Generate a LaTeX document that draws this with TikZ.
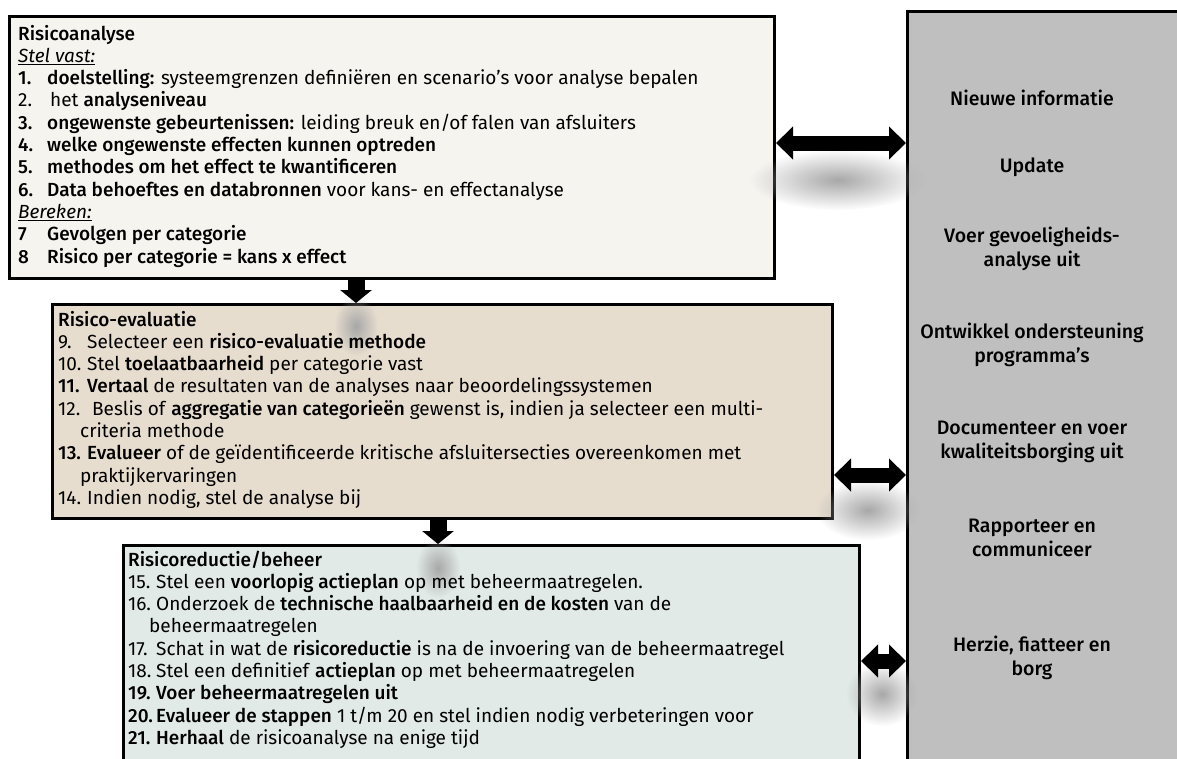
\documentclass[tikz,border=0pt]{standalone}
\usepackage{fontspec}
\setmainfont{Fira Sans}[BoldFont={Fira Sans Medium}]
\usetikzlibrary{arrows.meta,fadings}
\definecolor{boxA}{HTML}{F6F4EF}
\definecolor{boxB}{HTML}{E7DDCF}
\definecolor{boxC}{HTML}{E1EAE6}
\definecolor{sidegray}{HTML}{BFBFBF}
\tikzfading[name=softblob, inner color=transparent!0, outer color=transparent!100]
\begin{document}
\begin{tikzpicture}[x=1pt,y=-1pt,
  panel/.style={draw=black, line width=3pt, inner sep=0pt, anchor=north west},
  listtext/.style={anchor=base west, inner sep=0pt, font=\fontsize{19}{22.3}\selectfont},
  sidetext/.style={align=center, inner sep=0pt, font=\fontsize{19.5}{23.5}\selectfont\bfseries},
  hblock/.style={line width=15pt, {Triangle[length=17pt,width=32pt]}-{Triangle[length=17pt,width=32pt]}},
  vblock/.style={line width=17pt, -{Triangle[length=13pt,width=31pt]}},
  shadowblob/.style={fill=black!34, path fading=softblob}]
\path[use as bounding box] (0,0) rectangle (1177,758);
\clip (0,0) rectangle (1177,758);
\fill[white] (0,0) rectangle (1177,758);

% panels
\node[panel, fill=boxA, minimum width=765pt, minimum height=262pt] (ra) at (8,15) {};
\node[panel, fill=boxB, minimum width=780pt, minimum height=214pt] (re) at (51,303) {};
\node[panel, fill=boxC, minimum width=736pt, minimum height=260pt] (rb) at (122,544) {};
\node[panel, fill=sidegray, minimum width=400pt, minimum height=800pt] (side) at (906,10) {};

% shadows
\fill[shadowblob] (838,180) ellipse (88 and 30);
\fill[shadowblob] (868,510) ellipse (52 and 30);
\fill[shadowblob] (882,694) ellipse (36 and 32);
\fill[shadowblob] (356,326) ellipse (22 and 30);
\fill[shadowblob] (438,568) ellipse (22 and 30);

% texts
\node[listtext] (ratext) at (18,40) {\begin{tabular}[t]{@{}p{29pt}@{}l@{}}
\multicolumn{2}{@{}l@{}}{\bfseries Risicoanalyse}\\
\multicolumn{2}{@{}l@{}}{\underline{\textit{Stel vast:}}}\\
\bfseries 1. & \textbf{doelstelling:} systeemgrenzen definiëren en scenario's voor analyse bepalen\\
2. & \hspace{3pt}het \textbf{analyseniveau}\\
\bfseries 3. & \textbf{ongewenste gebeurtenissen:} leiding breuk en/of falen van afsluiters\\
\bfseries 4. & \textbf{welke ongewenste effecten kunnen optreden}\\
\bfseries 5. & \textbf{methodes om het effect te kwantificeren}\\
\bfseries 6. & \textbf{Data behoeftes en databronnen} voor kans- en effectanalyse\\
\multicolumn{2}{@{}l@{}}{\underline{\textit{Bereken:}}}\\
\bfseries 7 & \textbf{Gevolgen per categorie}\\
\bfseries 8 & \textbf{Risico per categorie = kans x effect}
\end{tabular}};

\node[listtext] (retext) at (58,326) {\begin{tabular}[t]{@{}p{29pt}@{}l@{}}
\multicolumn{2}{@{}l@{}}{\bfseries Risico-evaluatie}\\
9. & Selecteer een \textbf{risico-evaluatie methode}\\
10. & Stel \textbf{toelaatbaarheid} per categorie vast\\
\bfseries 11. & \textbf{Vertaal} de resultaten van de analyses naar beoordelingssystemen\\
12. & \hspace{5pt}Beslis of \textbf{aggregatie van categorieën} gewenst is, indien ja selecteer een multi-\\
\multicolumn{2}{@{\hspace{22pt}}l@{}}{criteria methode}\\
\bfseries 13. & \textbf{Evalueer} of de geïdentificeerde kritische afsluitersecties overeenkomen met\\
\multicolumn{2}{@{\hspace{22pt}}l@{}}{praktijkervaringen}\\
14. & Indien nodig, stel de analyse bij
\end{tabular}};

\node[listtext] (rbtext) at (128,566) {\begin{tabular}[t]{@{}p{28pt}@{}l@{}}
\multicolumn{2}{@{}l@{}}{\bfseries Risicoreductie/beheer}\\
15. & Stel een \textbf{voorlopig actieplan} op met beheermaatregelen.\\
16. & Onderzoek de \textbf{technische haalbaarheid en de kosten} van de\\
\multicolumn{2}{@{\hspace{21pt}}l@{}}{beheermaatregelen}\\
17. & Schat in wat de \textbf{risicoreductie} is na de invoering van de beheermaatregel\\
18. & Stel een definitief \textbf{actieplan} op met beheermaatregelen\\
\bfseries 19. & \textbf{Voer beheermaatregelen uit}\\
\bfseries 20. & \textbf{Evalueer de stappen} 1 t/m 20 en stel indien nodig verbeteringen voor\\
\bfseries 21. & \textbf{Herhaal} de risicoanalyse na enige tijd
\end{tabular}};

\node[sidetext] (s1) at (1032,98) {Nieuwe informatie};
\node[sidetext] (s2) at (1032,167) {Update};
\node[sidetext] (s3) at (1032,249) {Voer gevoeligheids-\\analyse uit};
\node[sidetext] (s4) at (1032,345) {Ontwikkel ondersteuning\\programma's};
\node[sidetext] (s5) at (1032,442) {Documenteer en voer\\kwaliteitsborging uit};
\node[sidetext] (s6) at (1032,538) {Rapporteer en\\communiceer};
\node[sidetext] (s7) at (1032,658) {Herzie, fiatteer en\\borg};

% connectors
\draw[hblock] (ra.east |- 0,143) -- (side.west |- 0,143);
\draw[hblock] (re.east |- 0,475) -- (side.west |- 0,475);
\draw[hblock] (rb.east |- 0,661) -- (side.west |- 0,661);
\draw[vblock] (ra.south -| 356,0) -- (re.north -| 356,0);
\draw[vblock] (re.south -| 438,0) -- (rb.north -| 438,0);
\end{tikzpicture}
\end{document}
